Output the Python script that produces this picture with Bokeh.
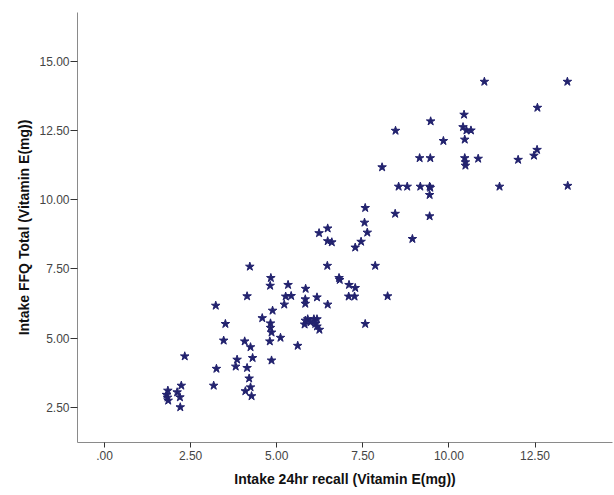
from bokeh.plotting import figure
from bokeh.models import FixedTicker, CustomJSTickFormatter, Range1d, BoxAnnotation
from bokeh.embed import file_html
from bokeh.resources import INLINE

# Intake 24hr recall (Vitamin E, mg)
recall_24hr = [
    4.22, 4.83, 4.81, 5.33, 4.14, 5.26, 5.42, 3.23, 5.22, 4.88,
    4.58, 4.82, 4.82, 4.85, 3.51, 3.46, 4.07, 4.24, 4.80, 5.11,
    2.33, 3.85, 4.30, 3.81, 3.25, 4.14, 4.85, 4.20, 3.17, 4.24,
    4.09, 4.27, 2.23, 1.84, 1.80, 2.11, 2.19, 1.85, 1.83, 2.20,
    7.57, 8.44, 9.44, 7.55, 6.48, 6.23, 7.63, 6.48, 6.60, 7.45,
    7.28, 8.94, 6.47, 7.86, 6.81, 6.83, 5.84, 7.10, 7.28, 7.09,
    7.26, 8.22, 6.17, 5.83, 5.83, 6.48, 5.61, 5.90, 6.08, 6.17,
    5.81, 5.98, 6.12, 6.24, 6.17, 7.57, 5.83,
    11.03, 13.44, 12.57, 10.44, 9.47, 8.45, 10.41, 10.51, 10.64, 9.84,
    10.46, 9.15, 9.46, 10.46, 10.48, 10.48, 10.85, 12.01, 12.56, 12.47,
    8.06, 8.54, 8.79, 9.17, 9.44, 9.46, 9.44, 11.47, 13.45,
]
# Intake FFQ Total (Vitamin E, mg)
ffq_total = [
    7.58, 7.17, 6.89, 6.92, 6.51, 6.50, 6.52, 6.17, 6.21, 5.99,
    5.72, 5.53, 5.37, 5.20, 5.51, 4.91, 4.88, 4.67, 4.88, 5.01,
    4.34, 4.22, 4.28, 3.97, 3.89, 3.92, 4.19, 3.54, 3.28, 3.22,
    3.08, 2.90, 3.28, 3.10, 2.95, 3.04, 2.86, 2.74, 2.85, 2.50,
    9.70, 9.49, 9.40, 9.17, 8.96, 8.79, 8.81, 8.50, 8.46, 8.48,
    8.27, 8.58, 7.61, 7.61, 7.17, 7.10, 6.78, 6.92, 6.81, 6.50,
    6.50, 6.51, 6.47, 6.40, 6.24, 6.21, 4.72, 5.68, 5.68, 5.68,
    5.49, 5.57, 5.51, 5.30, 5.42, 5.51, 5.63,
    14.26, 14.26, 13.32, 13.07, 12.83, 12.49, 12.62, 12.50, 12.50, 12.12,
    12.17, 11.50, 11.50, 11.50, 11.35, 11.23, 11.48, 11.44, 11.80, 11.59,
    11.17, 10.47, 10.47, 10.47, 10.47, 10.43, 10.17, 10.47, 10.50,
]
x_ticks = [0, 2.5, 5, 7.5, 10, 12.5]
y_ticks = [2.5, 5, 7.5, 10, 12.5, 15]

p = figure(width=613, height=490, output_backend="svg", toolbar_location=None,
           x_range=Range1d(-0.784, 14.75), y_range=Range1d(1.225, 16.76),
           min_border_left=77, min_border_right=1, min_border_top=12, min_border_bottom=48)
p.outline_line_color = None
p.grid.visible = False
p.background_fill_color = "white"
p.border_fill_color = "white"

# outer frame of the original picture
p.add_layout(BoxAnnotation(left=5, right=800, top=7, bottom=800,
                           left_units="canvas", right_units="canvas",
                           top_units="canvas", bottom_units="canvas",
                           fill_alpha=0, line_color="#555555", line_width=1))

p.scatter(recall_24hr, ffq_total, marker="star", size=9,
          fill_color="#22226e", line_color="#22226e")

fmt = CustomJSTickFormatter(code="return tick === 0 ? '.00' : tick.toFixed(2);")
p.xaxis.ticker = FixedTicker(ticks=x_ticks)
p.yaxis.ticker = FixedTicker(ticks=y_ticks)
p.xaxis.formatter = fmt
p.yaxis.formatter = fmt
for ax in (p.xaxis[0], p.yaxis[0]):
    ax.minor_tick_line_color = None
    ax.axis_line_color = "#8a8a8a"
    ax.major_tick_line_color = "#333333"
    ax.major_tick_in = 0
    ax.major_label_text_font = "Liberation Sans"
    ax.major_label_text_font_size = "12px"
    ax.major_label_text_color = "#444444"
    ax.axis_label_text_font = "Liberation Sans"
    ax.axis_label_text_font_size = "14px"
    ax.axis_label_text_font_style = "bold"
    ax.axis_label_text_color = "#111111"
p.xaxis.major_tick_out = 5
p.yaxis.major_tick_out = 7
p.xaxis.major_label_standoff = 3
p.yaxis.major_label_standoff = 1
p.xaxis.axis_label = "Intake 24hr recall (Vitamin E(mg))"
p.yaxis.axis_label = "Intake FFQ Total (Vitamin E(mg))"
p.xaxis.axis_label_standoff = 8
p.yaxis.axis_label_standoff = 4

open("out.html", "w").write(file_html(p, INLINE))
